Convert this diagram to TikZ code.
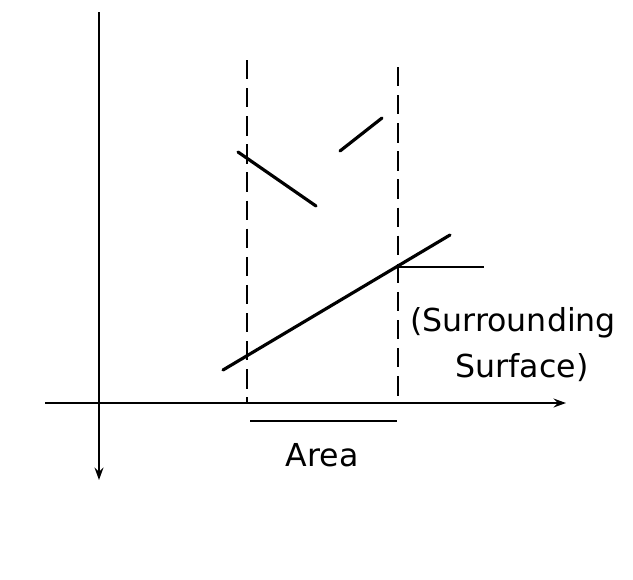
\documentclass[tikz,border=0pt]{standalone}
\usepackage{fontspec}
\setmainfont{DejaVu Sans}
\usetikzlibrary{arrows.meta,positioning}

\begin{document}
\begin{tikzpicture}[x=0.02cm,y=-0.02cm,
    axis/.style={line width=1.2pt,-{Stealth[length=7pt,width=5pt]}},
    bound/.style={line width=1.2pt,dash pattern=on 11pt off 5pt},
    seg/.style={line width=1.8pt,line cap=round},
    lbl/.style={font=\fontsize{18}{22}\selectfont,align=center,inner sep=0pt}]
  \useasboundingbox (0,0) rectangle (633,579);
  %% Axes
  \coordinate (ytop) at (99,12);
  \coordinate (ybot) at (99,480);
  \coordinate (xl) at (45,403);
  \coordinate (xr) at (566,403);
  \draw[axis] (ytop) -- (ybot);
  \draw[axis] (xl) -- (xr);
  %% Surrounding surface (dashed bounds)
  \coordinate (la) at (247,60);
  \coordinate (lb) at (247,403);
  \coordinate (ra) at (398,67);
  \coordinate (rb) at (398,403);
  \draw[bound] (la) -- (lb);
  \draw[bound] (ra) -- (rb);
  %% Segments
  \coordinate (s1a) at (238,152);
  \coordinate (s1b) at (316,206);
  \coordinate (s2a) at (340,151);
  \coordinate (s2b) at (382,118);
  \coordinate (s3a) at (223,370);
  \coordinate (s3b) at (450,235);
  \draw[seg] (s1a) -- (s1b);
  \draw[seg] (s2a) -- (s2b);
  \draw[seg] (s3a) -- (s3b);
  %% Pointer to label
  \coordinate (hp) at (398,267);
  \coordinate (he) at (484,267);
  \draw[line width=1pt] (hp) -- (he);
  %% Area
  \coordinate (aa) at (250,421);
  \coordinate (ab) at (397,421);
  \draw[line width=1.3pt] (aa) -- (ab);
  \node[lbl] (area) at (322,455) {Area};
  %% Label
  \node[lbl,anchor=west] (surr) at (410,323) {(Surrounding};
  \node[lbl] (surf) at (522,368) {Surface)};
\end{tikzpicture}
\end{document}
